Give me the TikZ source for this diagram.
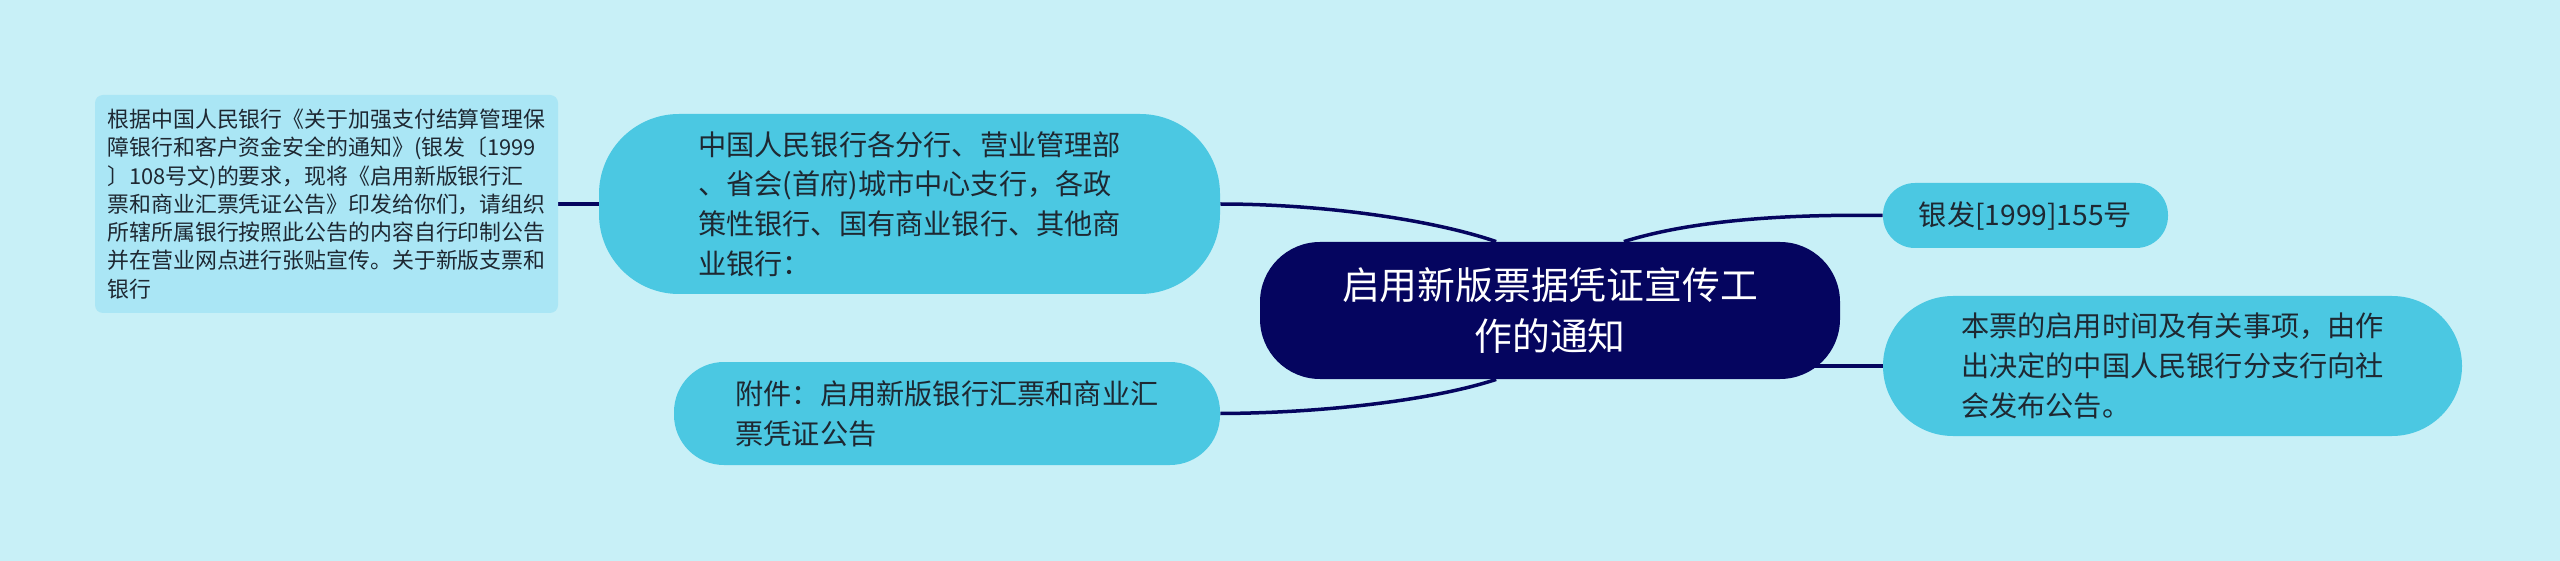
\documentclass[tikz,border=0pt]{standalone}
\usepackage{fontspec}
\setmainfont{Noto Sans CJK SC}
\usetikzlibrary{backgrounds}
\definecolor{bgcyan}{HTML}{C8F0F7}
\definecolor{leafcyan}{HTML}{4BC8E2}
\definecolor{notecyan}{HTML}{AAE6F5}
\definecolor{rootnavy}{HTML}{05055F}
\definecolor{leaftext}{HTML}{1E2832}

\begin{document}
\begin{tikzpicture}[x=0.5pt, y=-0.5pt,
        leafbox/.style={fill=leafcyan, text=leaftext, align=left, inner sep=0pt,
            font=\fontsize{14.1}{19.9}\selectfont},
        notebox/.style={fill=notecyan, text=leaftext, align=left, inner sep=0pt,
            rounded corners=4pt, font=\fontsize{10.95}{14.15}\selectfont},
        rootbox/.style={fill=rootnavy, text=white, align=center, inner sep=0pt,
            rounded corners=30pt, font=\fontsize{18.9}{25.3}\selectfont},
        link/.style={draw=rootnavy, line width=1.75pt}]

    \useasboundingbox (0,0) rectangle (2560,561);

    % Central topic
    \node[rootbox, minimum width=290pt, minimum height=68.5pt] (root) at (1550,310.5)
        {启用新版票据凭证宣传工\\作的通知};

    % Left branches
    \node[leafbox, minimum width=310.5pt, minimum height=90pt, rounded corners=40pt] (banks) at (909.5,204)
        {中国人民银行各分行、营业管理部\\、省会(首府)城市中心支行，各政\\策性银行、国有商业银行、其他商\\业银行：};
    \node[leafbox, minimum width=273pt, minimum height=51.5pt, rounded corners=25pt] (attach) at (947,413.5)
        {附件：启用新版银行汇票和商业汇\\票凭证公告};
    \node[notebox, minimum width=231.5pt, minimum height=109pt] (detail) at (326.5,204)
        {根据中国人民银行《关于加强支付结算管理保\\障银行和客户资金安全的通知》(银发〔1999\\〕108号文)的要求，现将《启用新版银行汇\\票和商业汇票凭证公告》印发给你们，请组织\\所辖所属银行按照此公告的内容自行印制公告\\并在营业网点进行张贴宣传。关于新版支票和\\银行};

    % Right branches
    \node[leafbox, minimum width=142.5pt, minimum height=32.5pt, rounded corners=16pt] (docno) at (2025.5,215.5)
        {银发[1999]155号};
    \node[leafbox, minimum width=289.5pt, minimum height=70pt, rounded corners=35pt] (notice) at (2172.5,366)
        {本票的启用时间及有关事项，由作\\出决定的中国人民银行分支行向社\\会发布公告。};

    % Background and connectors
    \begin{scope}[on background layer]
        \fill[bgcyan] (0,0) rectangle (2560,561);
        \draw[link] (detail.east) -- (banks.west);
        \draw[link] (root.128) .. controls (1430,219) and (1320,204) .. (banks.east);
        \draw[link] (root.232) .. controls (1430,401) and (1320,413) .. (attach.east);
        \draw[link] (root.43) .. controls (1690,221) and (1780,214) .. (docno.west);
        \draw[link] (root.center |- notice.west) -- (notice.west);
    \end{scope}

\end{tikzpicture}
\end{document}
